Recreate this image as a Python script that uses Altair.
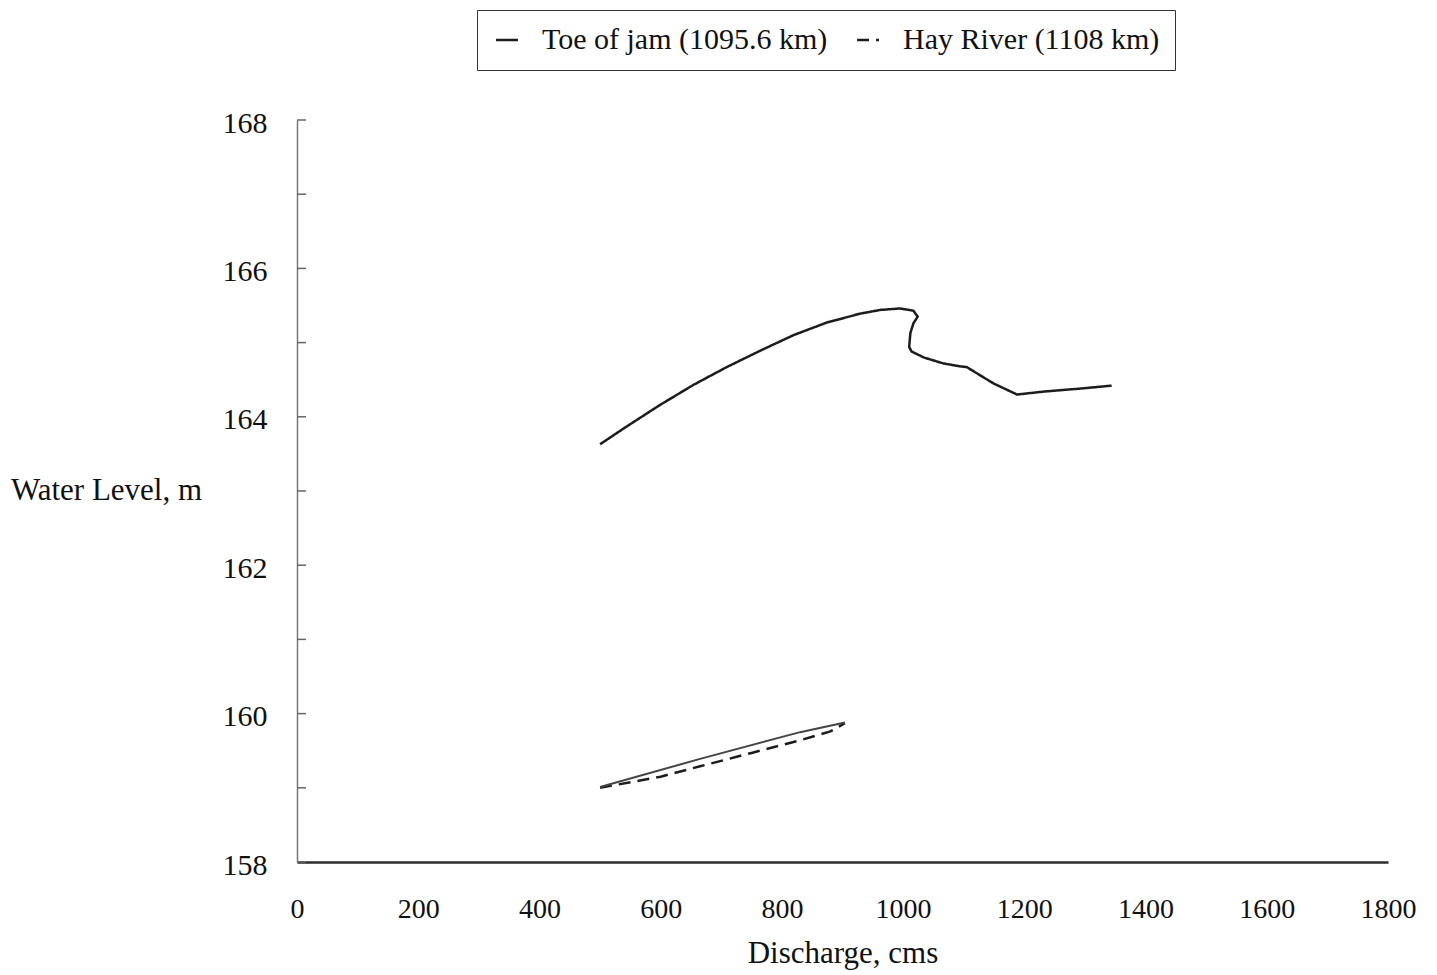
import altair as alt
import pandas as pd

# Toe of jam (1095.6 km): stage-discharge path, in drawing order
toe_q = [500, 544, 599, 654, 709, 764, 819, 874, 929, 962, 995, 1017, 1024,
         1017, 1012, 1010, 1014, 1034, 1066, 1094, 1105, 1149, 1188, 1232,
         1292, 1344]
toe_wl = [163.63, 163.87, 164.16, 164.43, 164.67, 164.89, 165.10, 165.27,
          165.39, 165.44, 165.46, 165.43, 165.35, 165.26, 165.13, 164.94,
          164.88, 164.80, 164.72, 164.68, 164.67, 164.45, 164.30, 164.34,
          164.38, 164.42]

# Hay River (1108 km): dashed falling limb
hay_q = [500, 600, 665, 750, 830, 880, 904]
hay_wl = [159.00, 159.15, 159.29, 159.47, 159.64, 159.76, 159.87]

# Solid rising limb at Hay River (no legend entry)
loop_q = [500, 665, 830, 904]
loop_wl = [159.01, 159.39, 159.75, 159.88]

x_ticks = [0, 200, 400, 600, 800, 1000, 1200, 1400, 1600, 1800]
y_labels = [158, 160, 162, 164, 166, 168]
y_ticks = [158, 159, 160, 161, 162, 163, 164, 165, 166, 167, 168]

TOE = "Toe of jam (1095.6 km)"
HAY = "Hay River (1108 km)"
FONT = "Liberation Serif"

rows = []
for i, (q, w) in enumerate(zip(toe_q, toe_wl)):
    rows.append({"series": TOE, "i": i, "q": q, "wl": w})
for i, (q, w) in enumerate(zip(hay_q, hay_wl)):
    rows.append({"series": HAY, "i": i, "q": q, "wl": w})
lines_df = pd.DataFrame(rows)
loop_df = pd.DataFrame({"i": range(len(loop_q)), "q": loop_q, "wl": loop_wl})
ticks_df = pd.DataFrame({"wl": y_ticks})

x_scale = alt.Scale(domain=[0, 1800], nice=False, zero=False)
y_scale = alt.Scale(domain=[158, 168], nice=False, zero=False)

x_axis = alt.Axis(
    title="Discharge, cms", values=x_ticks, format="d", grid=False, ticks=False,
    tickSize=0, labelFont=FONT, labelFontSize=28, labelColor="#111",
    labelPadding=33, labelFlush=False, domainColor="#2b2b2b", domainWidth=2.5,
    titleFont=FONT, titleFontSize=31, titleFontWeight="normal", titleColor="#111",
    titleY=91, titleBaseline="middle",
)
y_axis = alt.Axis(
    title="Water Level, m", values=y_labels, format="d", grid=False, ticks=False,
    tickSize=0, labelFont=FONT, labelFontSize=30, labelColor="#111",
    labelPadding=30, labelOffset=3, labelBaseline="middle", labelFlush=False,
    domainColor="#777", domainWidth=1.5,
    titleFont=FONT, titleFontSize=31, titleFontWeight="normal", titleColor="#111",
    titleAngle=0, titleAlign="center", titleBaseline="middle",
    titleX=-191, titleY=370,
)

lines = alt.Chart(lines_df).mark_line(color="#1c1c1c", strokeWidth=2.5).encode(
    x=alt.X("q:Q", scale=x_scale, axis=x_axis),
    y=alt.Y("wl:Q", scale=y_scale, axis=y_axis),
    strokeDash=alt.StrokeDash(
        "series:N",
        scale=alt.Scale(domain=[TOE, HAY], range=[[1, 0], [12, 7]]),
        legend=alt.Legend(
            title=None, orient="none", direction="horizontal",
            legendX=180, legendY=-110,
            labelFont=FONT, labelFontSize=30, labelColor="#111", labelLimit=0,
            labelOffset=20, columnPadding=24,
            symbolType="stroke", symbolSize=480, symbolStrokeWidth=2.5,
            symbolStrokeColor="#1c1c1c",
            padding=15, strokeColor="#333",
        ),
    ),
    detail="series:N",
    order="i:Q",
)

loop = alt.Chart(loop_df).mark_line(color="#444", strokeWidth=2).encode(
    x=alt.X("q:Q", scale=x_scale),
    y=alt.Y("wl:Q", scale=y_scale),
    order="i:Q",
)

# inward tick marks on the water-level axis
ticks = alt.Chart(ticks_df).mark_rule(color="#666", strokeWidth=1.5).encode(
    y=alt.Y("wl:Q", scale=y_scale),
    x=alt.value(0),
    x2=alt.value(9),
)

chart = alt.layer(lines, loop, ticks).properties(
    width=1091,
    height=742,
    autosize=alt.AutoSizeParams(type="none"),
    padding={"left": 297, "top": 120, "right": 49, "bottom": 113},
    background="white",
).configure_view(stroke=None)

chart.save("out.html", embed_options={"renderer": "svg", "actions": False})
